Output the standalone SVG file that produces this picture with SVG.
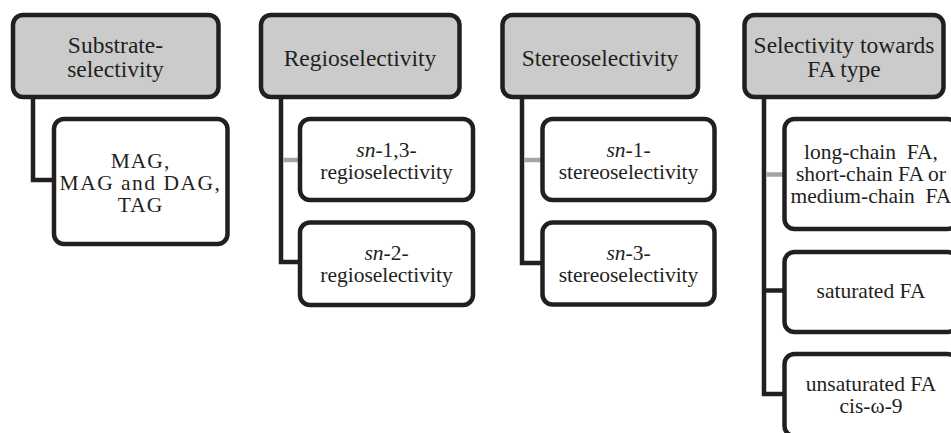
<svg xmlns="http://www.w3.org/2000/svg" width="951" height="433" viewBox="0 0 951 433">
<style>
.box{stroke:#231f20;stroke-width:4.5;}
.head{fill:#cbcbcb;}
.child{fill:#ffffff;}
.conn{fill:none;stroke:#231f20;stroke-width:4.5;stroke-linejoin:miter;}
.gray{fill:none;stroke:#a3a3a3;stroke-width:4.5;}
text{font-family:'Liberation Serif','DejaVu Serif',serif;fill:#231f20;text-anchor:middle;}
.ht{font-size:23.5px;}
.ct{font-size:21.5px;}
</style>
<rect width="951" height="433" fill="#ffffff"/>
<g id="connectors">
<path class="conn" d="M33,97 V180 H56"/>
<path class="conn" d="M281,97 V262 H302"/>
<path class="gray" d="M283.5,160 H302"/>
<path class="conn" d="M522,97 V263 H544"/>
<path class="gray" d="M524.5,160 H544"/>
<path class="conn" d="M764,97 V394 H786"/>
<path class="conn" d="M764,290.5 H786"/>
<path class="gray" d="M766.5,174.5 H786"/>
</g>
<g id="substrate">
<rect class="box head" x="13" y="15" width="205.5" height="82" rx="10"/>
<text class="ht" x="115.5" y="53">Substrate-</text>
<text class="ht" x="115.5" y="77">selectivity</text>
</g>
<g id="substrate-tags">
<rect class="box child" x="54" y="119" width="173.5" height="125" rx="10"/>
<text class="ct" x="140.5" y="168" letter-spacing="1">MAG,</text>
<text class="ct" x="140.5" y="190" letter-spacing="1.5">MAG and DAG,</text>
<text class="ct" x="140.5" y="212" letter-spacing="1">TAG</text>
</g>
<g id="regio">
<rect class="box head" x="261" y="15" width="198.5" height="82" rx="10"/>
<text class="ht" x="360" y="66">Regioselectivity</text>
</g>
<g id="regio-13">
<rect class="box child" x="300" y="119" width="173" height="81" rx="10"/>
<text class="ct" x="386.5" y="157"><tspan font-style="italic">sn</tspan>-1,3-</text>
<text class="ct" x="386.5" y="179">regioselectivity</text>
</g>
<g id="regio-2">
<rect class="box child" x="300" y="222.5" width="173" height="82.5" rx="10"/>
<text class="ct" x="386.5" y="260"><tspan font-style="italic">sn</tspan>-2-</text>
<text class="ct" x="386.5" y="282">regioselectivity</text>
</g>
<g id="stereo">
<rect class="box head" x="502.5" y="15" width="195.5" height="82" rx="10"/>
<text class="ht" x="600" y="66">Stereoselectivity</text>
</g>
<g id="stereo-1">
<rect class="box child" x="542.5" y="119" width="172" height="81" rx="10"/>
<text class="ct" x="628.5" y="157"><tspan font-style="italic">sn</tspan>-1-</text>
<text class="ct" x="628.5" y="179">stereoselectivity</text>
</g>
<g id="stereo-3">
<rect class="box child" x="542.5" y="222.5" width="172" height="82" rx="10"/>
<text class="ct" x="628.5" y="260"><tspan font-style="italic">sn</tspan>-3-</text>
<text class="ct" x="628.5" y="282">stereoselectivity</text>
</g>
<g id="fa">
<rect class="box head" x="744.5" y="15" width="199" height="82" rx="10"/>
<text class="ht" x="844" y="53">Selectivity towards</text>
<text class="ht" x="844" y="77">FA type</text>
</g>
<g id="fa-chain">
<rect class="box child" x="784.5" y="119" width="173" height="110" rx="10"/>
<text class="ct" x="871" y="159" xml:space="preserve">long-chain  FA,</text>
<text class="ct" x="871" y="181">short-chain FA or</text>
<text class="ct" x="871" y="203" xml:space="preserve">medium-chain  FA</text>
</g>
<g id="fa-saturated">
<rect class="box child" x="784.5" y="252" width="173" height="80" rx="10"/>
<text class="ct" x="871" y="298">saturated FA</text>
</g>
<g id="fa-unsaturated">
<rect class="box child" x="784.5" y="354" width="173" height="82" rx="10"/>
<text class="ct" x="871" y="391">unsaturated FA</text>
<text class="ct" x="871" y="413">cis-ω-9</text>
</g>
</svg>
